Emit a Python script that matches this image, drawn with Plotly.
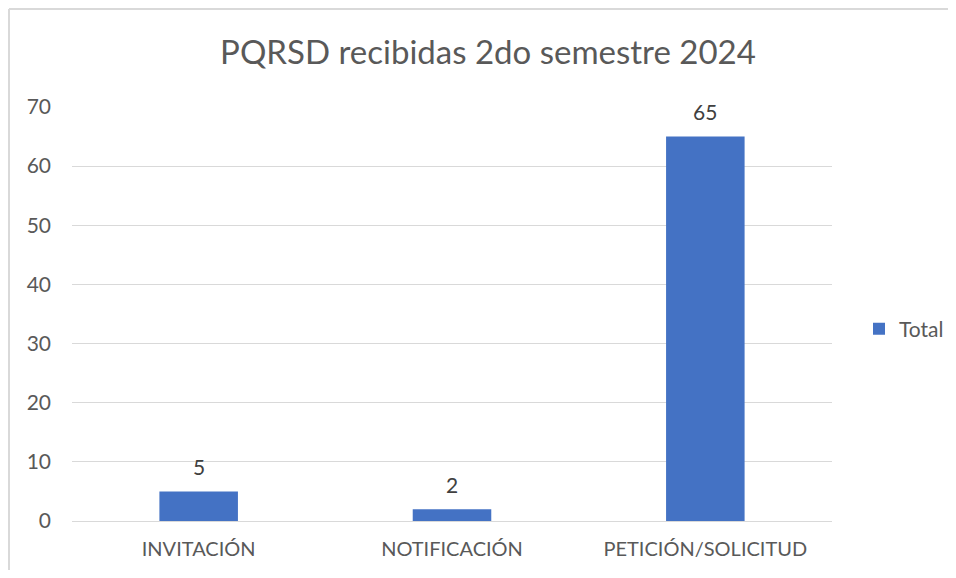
import plotly.graph_objects as go

categories = ["INVITACIÓN", "NOTIFICACIÓN", "PETICIÓN/SOLICITUD"]
values = [5, 2, 65]
series_name = "Total"
title_text = "PQRSD recibidas 2do semestre 2024"

OFF = 8  # page body margin
W, H = 956 - 2 * OFF, 578 - 2 * OFF
PL, PR, PT, PB = 72, 832, 107, 521  # plot area in page px
pw, ph = PR - PL, PB - PT

def px_x(x):
    return (x - PL) / pw

def px_y(y):
    return (PB - y) / ph

grey = "#595959"
font = "Lato, Calibri, Carlito, sans-serif"

fig = go.Figure()
fig.add_trace(go.Bar(
    x=categories, y=values, name=series_name,
    marker=dict(color="#4472C4", line=dict(width=0)),
))

for c, v in zip(categories, values):
    fig.add_annotation(x=c, y=v, text=str(v), showarrow=False,
                       xref="x", yref="y", yanchor="middle", yshift=25,
                       font=dict(size=21, color="#404040", family=font))

fig.update_layout(
    width=W, height=H,
    margin=dict(l=PL - OFF, r=(OFF + W) - PR, t=PT - OFF, b=(OFF + H) - PB, autoexpand=False),
    paper_bgcolor="white", plot_bgcolor="white",
    font=dict(family=font, color=grey, size=20),
    title=dict(text=title_text, x=(488 - OFF) / W, xanchor="center",
               y=1 - (52 - OFF) / H, yanchor="middle",
               xref="container", yref="container",
               font=dict(size=33, color=grey, family=font)),
    bargap=0.69,
    showlegend=True,
    legend=dict(x=px_x(859), y=px_y(329), xanchor="left", yanchor="middle",
                font=dict(size=21, color=grey), itemwidth=30, bgcolor="rgba(0,0,0,0)"),
    xaxis=dict(showgrid=False, showline=False, ticks="", ticklabelstandoff=14,
               tickfont=dict(size=20, color=grey)),
    yaxis=dict(range=[0, 70], dtick=10, showgrid=True, gridcolor="#D9D9D9", gridwidth=1,
               zeroline=True, zerolinecolor="#D9D9D9", zerolinewidth=1,
               showline=False, ticks="", ticklabelstandoff=20,
               tickfont=dict(size=21, color=grey)),
    shapes=[
        dict(type="line", xref="paper", yref="paper",
             x0=px_x(9), x1=px_x(9), y0=px_y(600), y1=px_y(9),
             line=dict(color="#D9D9D9", width=2), layer="below"),
        dict(type="line", xref="paper", yref="paper",
             x0=px_x(9), x1=px_x(990), y0=px_y(9), y1=px_y(9),
             line=dict(color="#D9D9D9", width=2), layer="below"),
    ],
)

fig.write_html("out.html")
